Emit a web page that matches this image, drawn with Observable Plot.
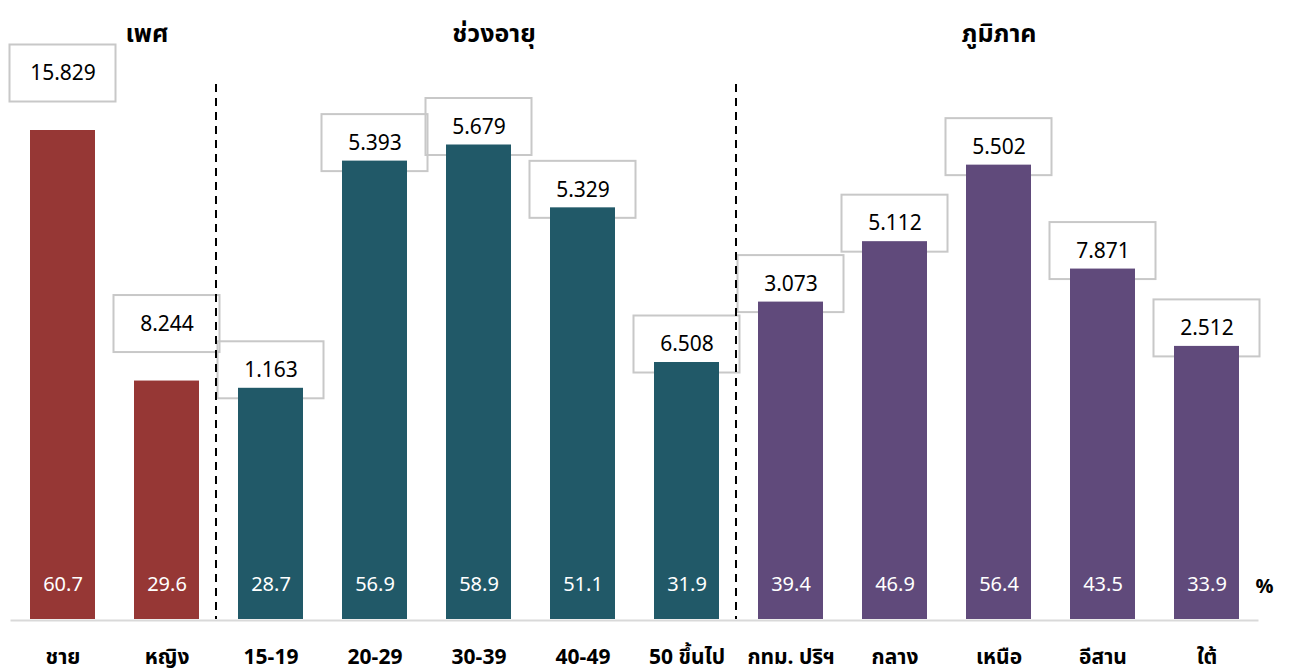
<!DOCTYPE html>
<html>
<head>
<meta charset="utf-8">
<script src="https://cdn.jsdelivr.net/npm/d3@7"></script>
<script src="https://cdn.jsdelivr.net/npm/@observablehq/plot@0.6"></script>
<style>
  html, body { margin: 0; padding: 0; background: #ffffff; }
  #chart svg { display: block; }
</style>
</head>
<body>
<div id="chart"></div>
<script>
// ---- data ----
const categories = ["ชาย", "หญิง", "15-19", "20-29", "30-39", "40-49", "50 ขึ้นไป", "กทม. ปริฯ", "กลาง", "เหนือ", "อีสาน", "ใต้"];
const groups = ["เพศ", "เพศ", "ช่วงอายุ", "ช่วงอายุ", "ช่วงอายุ", "ช่วงอายุ", "ช่วงอายุ", "ภูมิภาค", "ภูมิภาค", "ภูมิภาค", "ภูมิภาค", "ภูมิภาค"];
const percents = [60.7, 29.6, 28.7, 56.9, 58.9, 51.1, 31.9, 39.4, 46.9, 56.4, 43.5, 33.9];
const counts = [15.829, 8.244, 1.163, 5.393, 5.679, 5.329, 6.508, 3.073, 5.112, 5.502, 7.871, 2.512];
const groupNames = ["เพศ", "ช่วงอายุ", "ภูมิภาค"];
const groupColors = ["#963735", "#215968", "#604a7b"];
const separators = ["15-19", "กทม. ปริฯ"];

const data = categories.map((c, i) => ({category: c, group: groups[i], pct: percents[i], count: counts[i]}));
const fmtCount = d3.format(".3f");
const fmtPct = d3.format(".1f");
const font = "Tahoma, 'Leelawadee UI', 'Noto Sans Thai', 'Noto Sans', sans-serif";

const isGender = d => d.group === "เพศ";
const notGender = d => d.group !== "เพศ";

const boxStyle = {x: "category", y1: "pct", y2: "pct", fill: "none", stroke: "#c8c8c8", strokeWidth: 2, insetLeft: -20.5, insetRight: -20.5};

const headerStyle = {frameAnchor: "top", lineAnchor: "middle", dy: -51, fontSize: 25, fontWeight: "bold", fill: "black"};
const headerMarks = [
  Plot.text([groupNames[0]], {...headerStyle, x: () => "หญิง", dx: -20}),
  Plot.text([groupNames[1]], {...headerStyle, x: () => "30-39", dx: 15}),
  Plot.text([groupNames[2]], {...headerStyle, x: () => "เหนือ", dx: 0})
];

const chart = Plot.plot({
  width: 1299,
  height: 671,
  marginLeft: 10.5,
  marginRight: 40.5,
  marginTop: 84,
  marginBottom: 52,
  style: {fontFamily: font, background: "white", overflow: "visible"},
  x: {domain: categories, paddingInner: 0.375, paddingOuter: 0.1875, axis: null},
  y: {domain: [0, 60.7], range: [619, 130], axis: null},
  color: {domain: groupNames, range: groupColors},
  marks: [
    Plot.barY(data, {...boxStyle, filter: notGender, insetTop: -46.5, insetBottom: -10.5}),
    Plot.barY(data, {...boxStyle, filter: isGender, insetTop: -85.5, insetBottom: 28.5}),
    Plot.ruleX(separators, {x: d => d, dx: -55, stroke: "black", strokeWidth: 2, strokeDasharray: "8,6"}),
    Plot.barY(data, {x: "category", y: "pct", fill: "group"}),
    Plot.ruleY([0], {stroke: "#d9d9d9", strokeWidth: 2, dy: 1}),
    Plot.text(data, {filter: notGender, x: "category", y: "pct", text: d => fmtCount(d.count), dy: -18, fontSize: 21, fill: "black"}),
    Plot.text(data, {filter: isGender, x: "category", y: "pct", text: d => fmtCount(d.count), dy: -57, fontSize: 21, fill: "black"}),
    Plot.text(data, {x: "category", y: () => 0, text: d => fmtPct(d.pct), dy: -35, fontSize: 20, fill: "white"}),
    Plot.text(data, {x: "category", y: () => 0, text: "category", dy: 38, fontSize: 21, fontWeight: "bold", fill: "black"}),
    Plot.text(["%"], {frameAnchor: "bottom-right", lineAnchor: "middle", dx: 14.5, dy: -33, fontSize: 20, fontWeight: "bold", fill: "black"}),
    ...headerMarks
  ]
});
document.getElementById("chart").appendChild(chart);
</script>
</body>
</html>
